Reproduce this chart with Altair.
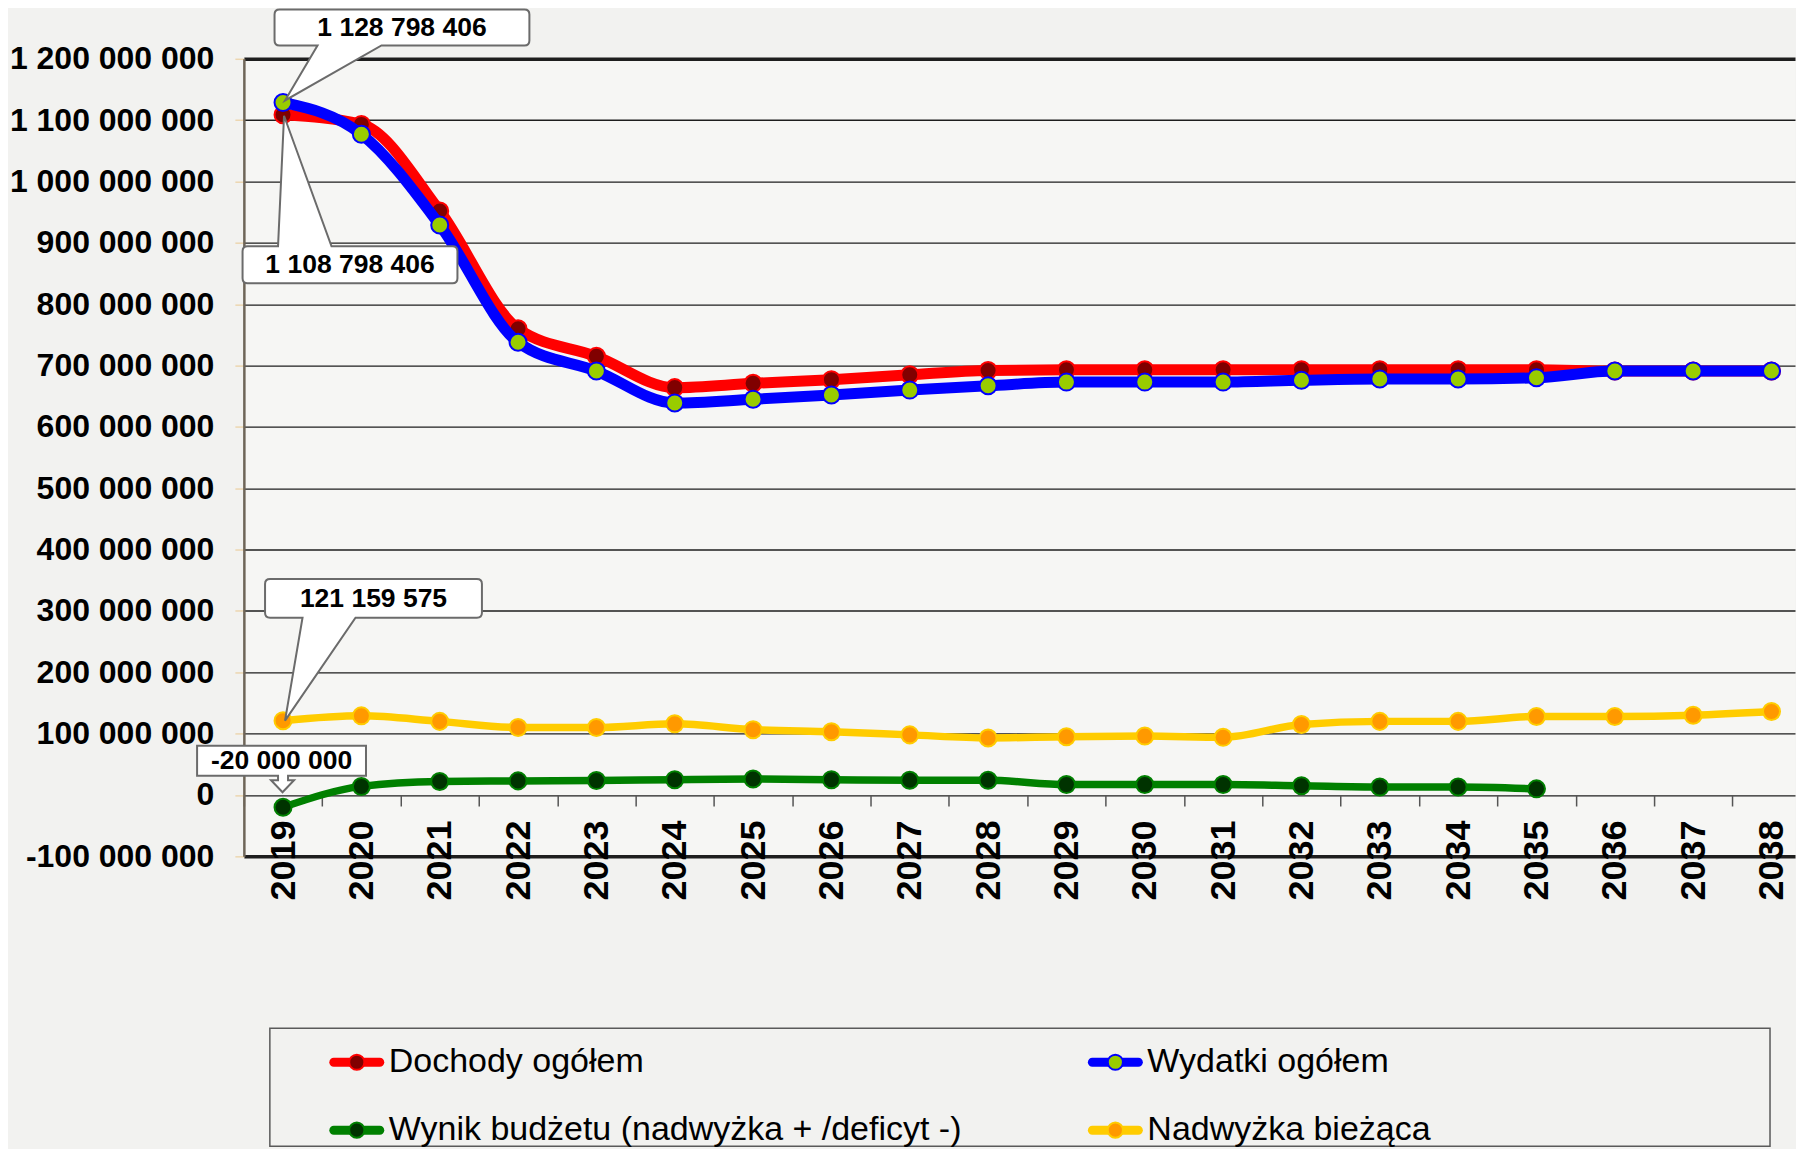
import altair as alt
import pandas as pd

# ---------------- data ----------------
years = list(range(2019, 2039))
series_names = [
    "Dochody ogółem",
    "Wydatki ogółem",
    "Wynik budżetu (nadwyżka + /deficyt -)",
    "Nadwyżka bieżąca",
]
dochody = [1108798406, 1093e6, 952e6, 760e6, 715e6, 664e6, 671e6, 677e6, 685e6, 692e6,
           693e6, 693e6, 693e6, 693e6, 693e6, 693e6, 693e6, 691e6, 691e6, 691e6]
wydatki = [1128798406, 1077e6, 929e6, 738e6, 691e6, 639e6, 645e6, 652e6, 660e6, 667e6,
           673e6, 673e6, 673e6, 676e6, 678e6, 678e6, 680e6, 691e6, 691e6, 691e6]
wynik = [-20000000, 14e6, 22e6, 23e6, 23.5e6, 25e6, 26e6, 25e6, 24e6, 24e6,
         17e6, 17e6, 17e6, 15e6, 13e6, 13e6, 10e6, None, None, None]
nadwyzka = [121159575, 129e6, 120e6, 110e6, 110e6, 116e6, 106.5e6, 103e6, 98e6, 93e6,
            95e6, 96e6, 94e6, 115e6, 120e6, 120e6, 128e6, 128e6, 130e6, 136e6]
y_ticks = [-100e6, 0, 100e6, 200e6, 300e6, 400e6, 500e6, 600e6, 700e6, 800e6, 900e6,
           1000e6, 1100e6, 1200e6]

series_values = [dochody, wydatki, wynik, nadwyzka]
rows = []
for name, vals in zip(series_names, series_values):
    for yr, v in zip(years, vals):
        if v is not None:
            rows.append({"series": name, "year": yr, "value": v,
                         "label": f"{int(v):,}".replace(",", " ")})
df = pd.DataFrame(rows)

# ---------------- styles ----------------
FONT = "Liberation Sans"
line_colors = ["#ff0000", "#0000ff", "#008000", "#ffcc00"]
marker_fill = ["#800000", "#99cc00", "#003300", "#ff9900"]
marker_stroke = ["#ff0000", "#0000ff", "#008000", "#ffcc00"]
line_widths = [11, 11, 7.5, 7.5]

STEP = 78.4
X_RIGHT = 0.3
W, H = round(STEP * (len(years) - 0.5 + X_RIGHT)), 798
ymin, ymax = y_ticks[0], y_ticks[-1]
zero_offset = -H * (0 - ymin) / (ymax - ymin)

xscale = alt.Scale(domain=[years[0] - 0.5, years[-1] + X_RIGHT], nice=False, zero=False)
yscale = alt.Scale(domain=[ymin, ymax], nice=False, zero=False)

yaxis = alt.Axis(
    values=y_ticks,
    labelExpr="replace(replace(format(datum.value, ','), regexp(',', 'g'), ' '), '\u2212', '-')",
    labelFontSize=32, labelFontWeight="bold", labelColor="black", labelFont=FONT,
    labelLimit=0, labelPadding=21, tickSize=9, tickColor="#ecd6b0", tickWidth=1.5,
    domainColor="#6e6558", domainWidth=2.5,
    grid=True, gridColor="#1e1e1e",
    gridWidth={"condition": {"test": f"datum.value == {int(ymin)} || datum.value == {int(ymax)}",
                             "value": 3.5}, "value": 1.3},
    title=None,
)
tick_axis = alt.Axis(
    orient="bottom", values=[y - 0.5 for y in years], labels=False, ticks=True,
    tickSize=11, tickColor="#555555", tickWidth=1.5, domain=False, grid=False,
    offset=zero_offset, title=None,
)
label_axis = alt.Axis(
    orient="bottom", values=years, format="d", labelAngle=270, labelAlign="right",
    labelBaseline="middle", labelFontSize=36, labelFontWeight="bold", labelColor="black",
    labelFont=FONT, labelPadding=25, labelLimit=0, ticks=False, domain=False, grid=False,
    offset=zero_offset, title=None, labelOverlap=False, labelFlush=False, labelBound=False,
)

X = alt.X("year:Q", scale=xscale, axis=None)
Y = alt.Y("value:Q", scale=yscale, axis=yaxis)

base = alt.Chart(df)
layers = []
for i, name in enumerate(series_names):
    d = base.transform_filter(alt.datum.series == name)
    if i == 0:
        xx = alt.X("year:Q", scale=xscale, axis=tick_axis)
    elif i == 1:
        xx = alt.X("year:Q", scale=xscale, axis=label_axis)
    else:
        xx = X
    layers.append(d.mark_line(color=line_colors[i], strokeWidth=line_widths[i],
                              interpolate="monotone", strokeCap="round",
                              strokeJoin="round").encode(x=xx, y=Y))
    layers.append(d.mark_point(shape="circle", filled=True, fill=marker_fill[i],
                               stroke=marker_stroke[i], strokeWidth=2, size=290,
                               opacity=1).encode(x=X, y=Y))

# ---------------- callouts (shape relative to the labelled point) ----------------
callouts = [
    # series index, path, text dx, text dy
    (1, "M -3.5 -93 H 241.5 Q 246.5 -93 246.5 -88 V -62 Q 246.5 -57 241.5 -57 H 98.5 "
        "L 2 -2 L 34.5 -57 H -3.5 Q -8.5 -57 -8.5 -62 V -88 Q -8.5 -93 -3.5 -93 Z", 119, -75),
    (0, "M -35.5 131.7 H -5 L 1 1 L 48.5 131.7 H 169.5 Q 174.5 131.7 174.5 136.7 V 163.7 "
        "Q 174.5 168.7 169.5 168.7 H -35.5 Q -40.5 168.7 -40.5 163.7 V 136.7 "
        "Q -40.5 131.7 -35.5 131.7 Z", 67, 150),
    (3, "M -13 -141.7 H 194 Q 199 -141.7 199 -136.7 V -108 Q 199 -103 194 -103 H 72.5 "
        "L 2 0 L 19.5 -103 H -13 Q -18 -103 -18 -108 V -136.7 Q -18 -141.7 -13 -141.7 Z",
     90.5, -122),
    (2, "M -86 -61.6 H 83 V -31.6 H 5 V -27 H 11 L -0.5 -15 L -12 -27 H -5 V -31.6 "
        "H -86 Z", -1.5, -46.5),
]
for idx, path, tdx, tdy in callouts:
    d = base.transform_filter(
        (alt.datum.series == series_names[idx]) & (alt.datum.year == years[0]))
    layers.append(d.mark_point(shape=path, size=4, filled=True, fill="white",
                               stroke="#6b6b6b", strokeWidth=2, opacity=1)
                  .encode(x=X, y=Y))
    layers.append(d.mark_text(dx=tdx, dy=tdy, fontSize=26.5, fontWeight="bold",
                              font=FONT, color="black", align="center",
                              baseline="middle").encode(x=X, y=Y, text="label:N"))

main = alt.layer(*layers).resolve_axis(x="independent").properties(
    width=W, height=H,
    view=alt.ViewBackground(stroke="transparent", fill="#f6f6f4"),
)

# ---------------- legend ----------------
leg_df = pd.DataFrame({
    "series": series_names,
    "col": [i % 2 for i in range(len(series_names))],
    "row": [i // 2 for i in range(len(series_names))],
})
LW, LH = 1501, 118
lx = alt.X("col:Q", scale=alt.Scale(domain=[-0.1146, 1.863], nice=False, zero=False), axis=None)
ly = alt.Y("row:Q", scale=alt.Scale(domain=[-0.5, -0.5 + LH / 68], nice=False, zero=False,
                                    reverse=True), axis=None)
lbase = alt.Chart(leg_df)
leg_layers = []
for i, name in enumerate(series_names):
    d = lbase.transform_filter(alt.datum.series == name)
    leg_layers.append(d.mark_point(
        shape="M -23 -4.5 H 23 A 4.5 4.5 0 0 1 23 4.5 H -23 A 4.5 4.5 0 0 1 -23 -4.5 Z",
        size=4, filled=True, fill=line_colors[i], strokeWidth=0, opacity=1).encode(x=lx, y=ly))
    leg_layers.append(d.mark_point(shape="circle", filled=True, fill=marker_fill[i],
                                   stroke=marker_stroke[i], strokeWidth=2, size=230,
                                   opacity=1).encode(x=lx, y=ly))
    leg_layers.append(d.mark_text(dx=32, align="left", baseline="middle", fontSize=34,
                                  font=FONT, color="black").encode(x=lx, y=ly, text="series:N"))

legend = alt.layer(*leg_layers).properties(
    width=LW, height=LH,
    view=alt.ViewBackground(stroke="#5a5a5a", strokeWidth=1.5, fill="transparent"),
)
spacer = alt.Chart(leg_df).mark_point(opacity=0).properties(
    width=1, height=LH, view=alt.ViewBackground(stroke="transparent", fill="transparent"))

legend_row = alt.hconcat(spacer, legend, spacing=21)

chart = alt.vconcat(main, legend_row, spacing=126).properties(
    padding={"left": 0, "top": -3.5, "right": 0, "bottom": 0},
    background="#f2f2f0",
).configure(font=FONT)

chart.save("out.html", embed_options={"renderer": "svg", "actions": False})
